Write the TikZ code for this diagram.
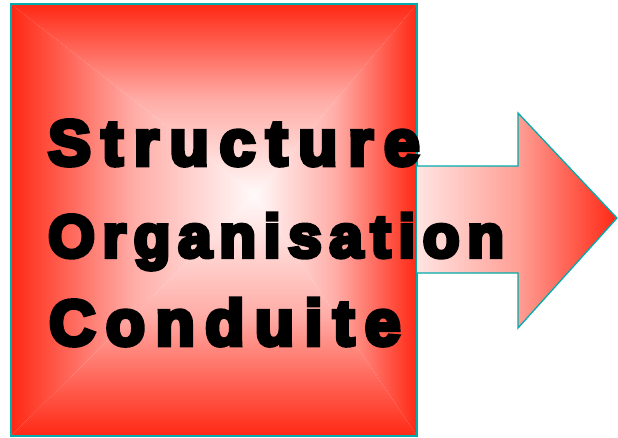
\documentclass[tikz,border=0pt]{standalone}
\usepackage{fontspec}
\newfontfamily\heavyfont[FakeBold=7]{Liberation Sans Bold}
\usetikzlibrary{positioning,calc}

\definecolor{boxred}{RGB}{255,40,20}
\definecolor{boxmid}{RGB}{255,172,166}
\definecolor{boxwhite}{RGB}{255,250,250}
\definecolor{arrowlight}{RGB}{255,228,226}
\definecolor{arrowmid}{RGB}{255,160,150}
\definecolor{outline}{RGB}{0,172,172}

\begin{document}
\begin{tikzpicture}[
    x=1pt, y=-1pt,
    edge/.style={draw=outline, line width=1.3pt, line join=miter},
    word/.style={anchor=base west, inner sep=0pt, text=black}
]

%======================
% Frame
%======================

\useasboundingbox (0,0) rectangle (618,437);

%======================
% Coordinates
%======================

\coordinate (TL) at (11,4);
\coordinate (TR) at (417,4);
\coordinate (BR) at (417,436);
\coordinate (BL) at (11,436);
\coordinate (C)  at (255,195);

\coordinate (S1) at (417,166);
\coordinate (S2) at (518,166);
\coordinate (H1) at (518,113);
\coordinate (T)  at (617,218);
\coordinate (H2) at (518,328);
\coordinate (S3) at (518,273);
\coordinate (S4) at (417,273);

%======================
% Box (gradient from centre)
%======================

\shade[top color=boxred, bottom color=boxwhite, middle color=boxmid]
  (TL) -- (TR) -- (C) -- cycle;
\shade[bottom color=boxred, top color=boxwhite, middle color=boxmid]
  (BL) -- (BR) -- (C) -- cycle;
\shade[left color=boxred, right color=boxwhite, middle color=boxmid]
  (TL) -- (BL) -- (C) -- cycle;
\shade[right color=boxred, left color=boxwhite, middle color=boxmid]
  (TR) -- (BR) -- (C) -- cycle;
\draw[edge] (TL) rectangle (BR);

%======================
% Arrow
%======================

\shade[left color=arrowlight, right color=boxred, middle color=arrowmid]
  (S1) -- (S2) -- (H1) -- (T) -- (H2) -- (S3) -- (S4) -- cycle;
\draw[edge] (S1) -- (S2) -- (H1) -- (T) -- (H2) -- (S3) -- (S4);

%======================
% Words
%======================

\node[word, font=\heavyfont\fontsize{64}{64}\selectfont\addfontfeature{LetterSpace=17}]
  (structure) at (48,165) {Structure};
\node[word, font=\heavyfont\fontsize{60}{60}\selectfont\addfontfeature{LetterSpace=13}]
  (organisation) at (48,257) {Organisation};
\node[word, font=\heavyfont\fontsize{64}{64}\selectfont\addfontfeature{LetterSpace=16.5}]
  (conduite) at (49,345) {Conduite};

\end{tikzpicture}
\end{document}
